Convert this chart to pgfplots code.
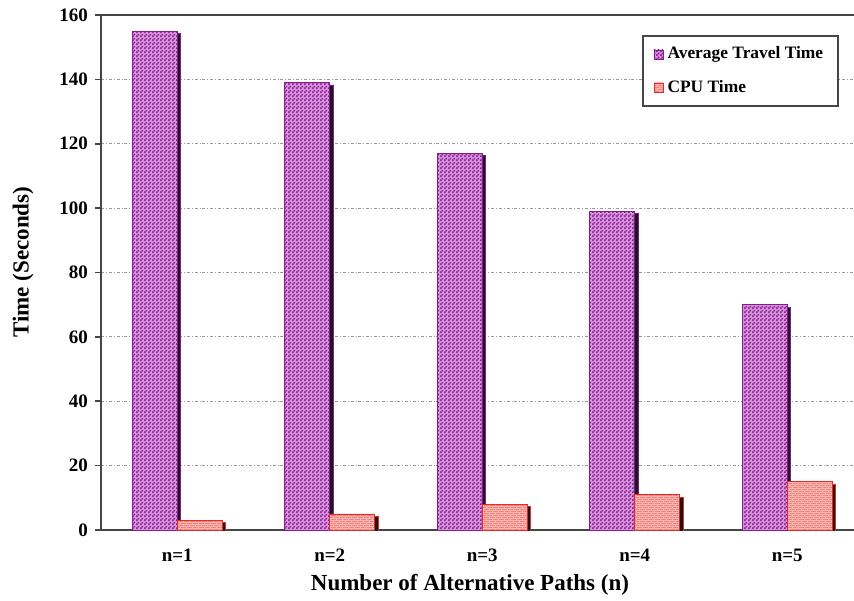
\documentclass[border=0pt]{standalone}
\usepackage{pgfplots}
\pgfplotsset{compat=1.18}
\usepackage{fontspec}
\setmainfont{Liberation Serif}
\usetikzlibrary{patterns}
\definecolor{purpD}{RGB}{135,25,145}
\definecolor{purpL}{RGB}{215,150,220}
\definecolor{pinkD}{RGB}{238,132,126}
\definecolor{pinkL}{RGB}{250,182,176}
\definecolor{pinkB}{RGB}{230,40,40}
\definecolor{axisgray}{RGB}{70,70,70}
\pgfdeclarepatternformonly{mycheck}{\pgfpointorigin}{\pgfqpoint{2pt}{2pt}}{\pgfqpoint{2pt}{2pt}}{%
  \pgfpathrectangle{\pgfpointorigin}{\pgfqpoint{1pt}{1pt}}%
  \pgfpathrectangle{\pgfqpoint{1pt}{1pt}}{\pgfqpoint{1pt}{1pt}}%
  \pgfusepath{fill}}
\pgfdeclarepatternformonly{mybricks}{\pgfqpoint{-0.2pt}{-0.2pt}}{\pgfqpoint{3.2pt}{2.2pt}}{\pgfqpoint{3pt}{2pt}}{%
  \pgfsetlinewidth{0.25pt}%
  \pgfpathmoveto{\pgfqpoint{0pt}{0pt}}\pgfpathlineto{\pgfqpoint{3pt}{0pt}}%
  \pgfpathmoveto{\pgfqpoint{0pt}{1pt}}\pgfpathlineto{\pgfqpoint{3pt}{1pt}}%
  \pgfpathmoveto{\pgfqpoint{0pt}{0pt}}\pgfpathlineto{\pgfqpoint{0pt}{1pt}}%
  \pgfpathmoveto{\pgfqpoint{1.5pt}{1pt}}\pgfpathlineto{\pgfqpoint{1.5pt}{2pt}}%
  \pgfusepath{stroke}}
\begin{document}
\begin{tikzpicture}
\begin{axis}[
  scale only axis, width=376.5pt, height=257.5pt,
  xmin=0.5, xmax=5.438, ymin=0, ymax=160,
  axis x line*=box, axis y line*=left,
  axis line style={axisgray, line width=1pt},
  ybar, bar width=22.5pt,
  xtick={1,2,3,4,5},
  xticklabels={{n=1},{n=2},{n=3},{n=4},{n=5}},
  x tick style={draw=none},
  ytick={0,20,...,160},
  tick align=outside, major tick length=3pt,
  y tick style={axisgray, line width=0.8pt},
  /pgf/number format/assume math mode=true,
  ticklabel style={font=\bfseries\fontsize{9.5}{10}\selectfont},
  xticklabel style={anchor=center, yshift=-9.5pt},
  ymajorgrids,
  grid style={gray!80, line width=0.4pt, dash pattern=on 1.5pt off 1pt on 0.4pt off 1pt},
  xlabel={Number of Alternative Paths (n)},
  ylabel={Time (Seconds)},
  label style={font=\bfseries\fontsize{11.5}{12}\selectfont},
  xlabel style={at={(axis description cs:0.49,0)}, anchor=center, yshift=-27.5pt},
  ylabel style={at={(axis description cs:0,0.52)}, anchor=center, yshift=39pt},
  legend image code/.code={\filldraw[#1] (0pt,-2.3pt) rectangle (4.6pt,2.3pt);},
  legend style={at={(rel axis cs:1,1)}, anchor=north east, xshift=-7.5pt, yshift=-10pt,
    draw=axisgray, line width=0.9pt, font=\bfseries\fontsize{8.7}{9}\selectfont,
    row sep=5pt, inner xsep=5.5pt, inner ysep=3.5pt},
  legend cell align=left,
]
\addplot[forget plot, bar shift=-11.25pt, fill=purpL, draw=purpD, line width=0.4pt,
  postaction={pattern=mycheck, pattern color=purpD},
  preaction={fill=black!90, transform canvas={xshift=1.7pt, yshift=-1.2pt}}]
  coordinates {(1,155) (2,139) (3,117) (4,99) (5,70)};
\addplot[forget plot, bar shift=11.25pt, fill=pinkD, draw=pinkB, line width=0.4pt,
  postaction={pattern=mybricks, pattern color=pinkL},
  preaction={fill=black!90, transform canvas={xshift=1.7pt, yshift=-1.2pt}}]
  coordinates {(1,3) (2,5) (3,8) (4,11) (5,15)};
\addlegendimage{fill=purpL, draw=purpD, line width=0.3pt, postaction={pattern=mycheck, pattern color=purpD}}
\addlegendentry{Average Travel Time}
\addlegendimage{fill=pinkD, draw=pinkB, line width=0.3pt, postaction={pattern=mybricks, pattern color=pinkL}}
\addlegendentry{CPU Time}
\coordinate (bl) at (rel axis cs:0,0);
\coordinate (tr) at (rel axis cs:1,1);
\end{axis}
\pgfresetboundingbox
\path[use as bounding box] ([xshift=-50.5pt,yshift=-35pt]bl) rectangle ([yshift=7.5pt]tr);
\end{tikzpicture}
\end{document}
